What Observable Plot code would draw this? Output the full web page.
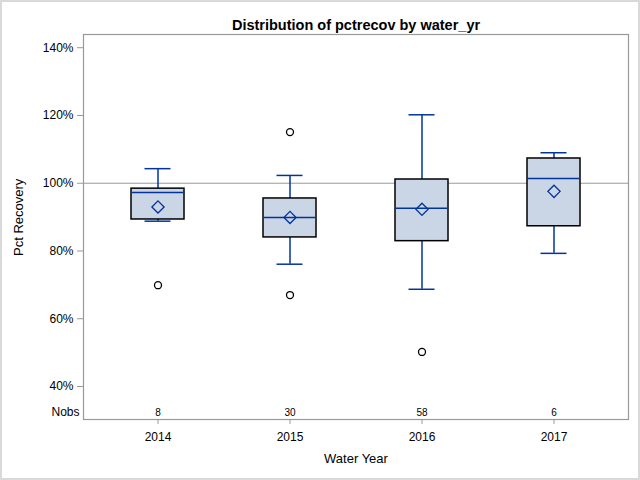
<!DOCTYPE html>
<html>
<head>
<meta charset="utf-8">
<script src="https://cdn.jsdelivr.net/npm/d3@7"></script>
<script src="https://cdn.jsdelivr.net/npm/@observablehq/plot@0.6"></script>
<style>
  html, body { margin: 0; padding: 0; background: white; }
  #chart svg { display: block; outline: 2px solid #d9d9d9; outline-offset: -2px; }
</style>
</head>
<body>
<div id="chart"></div>
<script>
const years = ["2014", "2015", "2016", "2017"];
const whiskerLow = [88.8, 76.1, 68.7, 79.3];
const q1 = [89.3, 84.0, 82.9, 87.3];
const median = [97.3, 89.9, 92.6, 101.4];
const q3 = [98.4, 95.5, 101.1, 107.3];
const whiskerHigh = [104.3, 102.3, 120.2, 109.0];
const means = [93.0, 89.9, 92.3, 97.6];
const nobs = [8, 30, 58, 6];
const outlierYears = ["2014", "2015", "2015", "2016"];
const outlierValues = [69.9, 115.1, 67.0, 50.2];
const yTicks = [40, 60, 80, 100, 120, 140];
const refValue = [100];

const titleText = "Distribution of pctrecov by water_yr";
const boxes = years.map((y, i) => ({
  year: y, lo: whiskerLow[i], q1: q1[i], med: median[i], q3: q3[i],
  hi: whiskerHigh[i], mean: means[i], n: nobs[i]
}));
const outliers = outlierYears.map((y, i) => ({year: y, value: outlierValues[i]}));

const blue = "#00349c";
const fill = "#cad5e5";
const gray = "#999999";

const chart = Plot.plot({
  width: 640,
  height: 480,
  marginLeft: 83,
  marginRight: 12,
  marginTop: 34,
  marginBottom: 61,
  style: {fontFamily: "'Liberation Sans', Arial, sans-serif", fontSize: "12px", color: "#000", background: "white"},
  x: {type: "band", domain: years, paddingInner: 0.6, paddingOuter: 0.353, label: null},
  y: {domain: [30.26, 143.9], label: null},
  marks: [
    Plot.ruleY(refValue, {stroke: gray, strokeWidth: 1}),
    Plot.ruleX(boxes, {x: "year", y1: "lo", y2: "q1", stroke: blue, strokeWidth: 1.5}),
    Plot.ruleX(boxes, {x: "year", y1: "q3", y2: "hi", stroke: blue, strokeWidth: 1.5}),
    Plot.tickY(boxes, {x: "year", y: "lo", stroke: blue, strokeWidth: 1.5, insetLeft: 13.5, insetRight: 13.5}),
    Plot.tickY(boxes, {x: "year", y: "hi", stroke: blue, strokeWidth: 1.5, insetLeft: 13.5, insetRight: 13.5}),
    Plot.barY(boxes, {x: "year", y1: "q1", y2: "q3", fill: fill, stroke: "#000", strokeWidth: 1.5}),
    Plot.tickY(boxes, {x: "year", y: "med", stroke: blue, strokeWidth: 1.5, insetLeft: 0.75, insetRight: 0.75}),
    Plot.dot(boxes, {x: "year", y: "mean", symbol: "diamond2", r: 5.5, stroke: blue, strokeWidth: 1.3, fill: "none"}),
    Plot.dot(outliers, {x: "year", y: "value", r: 3.5, stroke: "#000", strokeWidth: 1.3, fill: "white"}),
    Plot.text(boxes, {x: "year", text: d => String(d.n), frameAnchor: "bottom", dy: -4, fontSize: 10}),
    Plot.text(["Nobs"], {text: d => d, frameAnchor: "bottom-left", dx: -4, dy: -4, textAnchor: "end", fontSize: 12}),
    Plot.axisY({ticks: yTicks, tickFormat: d => d + "%", tickSize: 6, tickPadding: 4, stroke: gray, label: null, fontSize: 12}),
    Plot.axisX({tickSize: 5, tickPadding: 8, stroke: gray, label: null, fontSize: 12}),
    Plot.frame({stroke: gray, strokeWidth: 1.2}),
    Plot.text([titleText], {text: d => d, frameAnchor: "top", dy: -15, fontSize: 14.5, fontWeight: "bold"}),
    Plot.text(["Pct Recovery"], {text: d => d, frameAnchor: "left", dx: -65, dy: 29, rotate: -90, fontSize: 13}),
    Plot.text(["Water Year"], {text: d => d, frameAnchor: "bottom", dy: 43, fontSize: 13})
  ]
});
document.getElementById("chart").appendChild(chart);
</script>
</body>
</html>
